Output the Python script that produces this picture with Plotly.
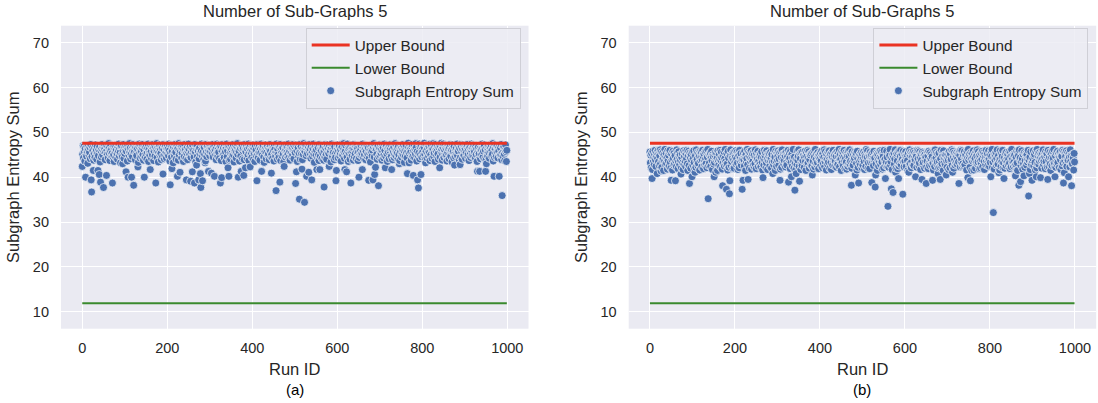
import plotly.graph_objects as go

# ---------------- data ----------------
run_ids = list(range(1000))
upper_bound = 47.6
lower_bound = 11.9
x_ticks = [0, 200, 400, 600, 800, 1000]
y_ticks = [10, 20, 30, 40, 50, 60, 70]
panel_title = "Number of Sub-Graphs 5"
captions = ["(a)", "(b)"]

# panel (a): main band of values, run 0..999
entropy_a = [
46.2,45.1,47.0,44.3,46.8,45.7,43.6,46.4,47.2,45.0,44.7,46.9,45.8,43.1,46.3,47.1,44.9,45.6,46.7,44.1,
47.3,45.4,46.0,44.6,46.5,45.9,47.0,43.8,45.2,46.6,44.4,47.2,45.7,46.1,44.0,46.9,45.3,47.4,44.8,46.2,
45.5,46.8,43.4,47.1,45.9,44.5,46.4,47.3,45.0,46.7,44.2,45.8,47.0,46.3,43.9,45.6,47.2,44.7,46.0,45.1,
46.9,44.3,47.5,45.4,46.6,43.7,45.9,47.1,44.9,46.2,45.3,47.3,44.6,46.8,45.0,43.5,46.5,47.0,45.7,44.4,
46.1,47.2,45.2,44.0,46.7,45.8,47.4,44.8,46.3,45.5,43.2,46.9,47.1,45.0,44.5,46.4,45.9,47.3,44.2,46.6,
45.3,46.0,47.0,44.7,45.8,46.8,43.6,47.2,45.4,46.2,44.9,47.5,45.6,46.5,44.1,45.1,47.1,46.3,44.6,45.9,
47.3,44.4,46.1,45.7,47.0,43.9,46.7,45.2,44.8,47.2,46.4,45.0,43.3,46.9,47.4,45.5,44.3,46.0,47.1,45.8,
44.6,46.6,47.3,45.1,43.8,46.2,45.9,47.0,44.5,46.8,45.3,47.2,44.0,45.6,46.5,47.4,43.5,46.1,45.4,44.9,
46.3,47.1,45.7,44.2,46.9,45.0,47.3,46.4,43.7,45.8,47.0,44.7,46.6,45.2,46.0,47.5,44.4,45.9,46.7,43.4,
45.5,46.8,47.2,44.9,46.1,45.3,43.9,47.0,46.5,44.6,45.7,47.3,46.2,44.1,45.0,46.9,47.1,45.6,44.3,46.4,
47.0,45.2,46.3,44.8,47.4,45.9,43.6,46.6,45.4,47.2,44.5,46.0,45.8,47.1,43.2,46.7,45.1,44.7,47.3,46.2,
45.6,44.0,46.9,47.0,45.3,46.4,43.8,47.5,45.0,46.1,44.9,45.7,47.2,46.8,44.3,45.5,46.5,47.1,43.5,46.0,
44.6,47.3,45.9,46.2,44.2,47.0,45.4,46.7,43.9,45.8,47.4,46.3,44.8,45.1,46.9,47.2,44.4,45.6,46.6,43.7,
47.1,45.3,46.0,44.5,46.8,47.3,45.7,43.4,46.4,45.0,47.0,44.7,46.1,45.9,47.2,44.1,46.5,45.2,43.8,46.9,
45.8,47.4,44.9,46.3,45.5,47.1,44.0,46.7,45.1,46.2,43.6,47.3,45.6,44.6,46.8,47.0,45.4,44.3,46.0,47.2,
44.8,46.5,45.7,47.1,43.3,46.4,45.2,47.3,44.5,46.9,45.9,44.1,47.0,46.1,45.0,43.9,46.6,47.4,45.3,44.7,
46.3,45.6,47.2,44.2,46.8,45.4,47.0,43.7,46.0,45.8,47.3,44.9,46.5,45.1,44.4,47.1,46.2,45.7,43.5,46.7,
47.4,44.6,45.9,46.4,47.0,45.2,43.8,46.9,45.5,44.0,47.2,46.1,45.3,44.8,46.6,47.3,45.0,43.4,46.3,45.7,
46.0,47.1,44.3,45.6,46.8,47.5,45.1,44.5,46.2,45.8,43.6,47.0,46.5,44.7,45.4,46.9,47.2,44.1,45.9,46.4,
45.3,43.9,47.3,46.1,44.9,45.7,46.7,47.0,44.2,46.3,45.0,47.4,43.7,46.6,45.5,44.6,47.1,46.0,45.2,44.4,
46.8,45.9,47.2,44.0,46.4,45.3,43.5,47.0,45.8,46.1,44.7,46.9,47.3,45.1,44.3,46.5,45.6,47.1,43.8,46.2,
45.4,47.4,44.8,46.7,45.0,46.3,47.1,44.5,43.3,46.0,45.7,47.2,46.6,44.1,45.5,46.9,47.0,44.9,45.2,46.4,
43.9,46.1,47.3,45.8,44.6,46.8,45.1,47.0,44.2,46.5,45.9,43.6,47.2,46.2,45.3,44.7,46.7,47.4,45.6,44.0,
46.3,45.0,47.1,44.4,46.9,45.7,47.3,43.7,46.0,45.4,44.8,47.0,46.6,45.2,43.4,46.4,47.2,45.9,44.5,46.1,
47.0,44.9,45.6,46.8,45.1,47.4,44.3,46.2,45.8,43.8,46.7,47.1,45.3,44.6,46.5,45.0,47.3,46.0,44.1,45.7,
46.9,45.5,44.2,47.2,46.3,45.9,43.5,47.0,46.6,44.7,45.4,46.1,47.3,44.0,45.8,46.8,45.2,47.1,43.9,46.4,
45.1,47.5,46.0,44.5,45.7,46.7,47.2,44.8,43.6,46.2,45.3,47.0,46.5,44.4,45.9,47.3,46.3,45.0,44.2,46.9,
47.1,45.6,44.6,46.4,47.4,45.2,43.3,46.8,45.8,47.0,44.9,46.1,45.5,47.2,44.3,46.6,45.0,43.7,47.3,46.0,
44.7,46.3,45.9,47.1,44.1,46.7,45.4,47.0,43.8,46.2,45.7,44.5,47.3,46.5,45.1,44.0,46.9,47.2,45.6,46.4,
45.3,44.8,47.0,46.1,45.8,43.4,46.6,47.4,45.0,44.6,46.3,45.5,47.1,43.9,46.8,45.2,44.4,47.3,46.0,45.7,
46.5,47.2,44.3,45.9,46.9,47.0,44.7,45.4,46.2,43.6,47.3,46.7,45.1,44.9,46.0,47.5,45.6,44.2,46.4,45.8,
47.1,45.0,46.6,44.5,47.4,45.7,43.5,46.3,46.8,45.2,44.0,47.0,46.1,45.5,47.2,44.8,45.9,46.5,43.8,47.3,
44.6,46.2,45.3,47.1,46.9,44.1,45.8,47.0,46.4,43.7,45.6,47.3,44.4,46.7,45.1,46.0,47.2,44.9,45.4,46.3,
47.4,45.9,44.3,46.6,45.0,47.1,46.2,43.9,45.7,47.0,44.7,46.8,45.2,46.5,47.3,44.2,45.5,46.1,43.4,46.9,
45.6,47.2,44.8,46.0,45.3,46.7,47.5,44.5,45.9,46.4,43.6,47.1,46.3,45.1,44.0,46.8,47.0,45.7,44.6,46.2,
46.5,44.9,47.3,45.4,46.1,43.8,47.2,45.8,46.6,44.3,45.0,47.4,46.0,45.5,44.7,46.9,47.1,45.2,43.5,46.3,
45.7,46.8,44.1,47.0,45.9,46.4,47.3,44.6,45.3,46.2,43.9,47.2,45.6,46.7,44.4,45.1,47.5,46.0,44.8,45.8,
47.1,45.4,46.5,44.2,46.9,45.0,47.4,43.7,46.3,45.7,47.0,44.5,46.6,45.2,46.1,47.3,44.9,45.9,43.3,46.8,
44.7,46.0,47.2,45.5,44.3,46.4,45.8,47.6,46.7,44.0,45.3,47.1,46.2,45.6,43.8,46.9,47.3,45.1,44.6,46.5,
45.9,47.0,44.4,46.3,45.2,47.5,46.6,43.6,45.7,47.2,44.8,46.1,45.4,47.4,44.1,46.8,45.0,46.4,47.1,44.5,
46.2,45.6,47.3,44.9,46.7,47.6,45.1,43.9,46.0,45.8,47.2,44.3,46.5,45.3,47.0,44.7,46.9,45.5,43.7,47.4,
45.0,46.6,47.1,44.2,45.9,46.3,47.5,44.6,45.4,46.8,43.5,47.3,46.1,45.7,44.8,46.4,47.0,45.2,44.0,46.7,
47.2,45.3,44.5,46.9,45.8,47.6,46.2,43.8,45.1,46.6,47.4,44.4,45.6,46.0,47.1,44.9,46.5,45.0,43.6,46.8,
45.5,47.0,46.3,44.1,46.7,45.2,47.3,44.7,45.9,46.1,43.4,47.2,46.4,45.7,44.3,46.9,47.1,45.4,44.6,46.2,
46.6,45.1,47.4,44.8,46.0,45.8,47.0,43.9,46.5,45.3,44.5,47.3,46.8,45.6,44.0,46.3,47.2,45.0,44.9,46.7,
45.9,46.4,44.2,47.1,45.5,46.9,47.3,44.6,45.2,46.2,43.7,47.0,46.6,45.4,44.4,46.1,47.4,45.8,44.8,46.5,
47.2,44.7,46.0,45.7,47.1,44.3,46.8,45.1,46.3,43.5,47.0,45.6,46.7,44.9,45.3,47.3,46.4,44.1,45.9,46.2,
45.0,47.4,46.5,44.5,45.8,46.9,47.2,44.0,46.1,45.4,43.8,47.1,46.6,45.2,44.7,46.3,47.0,45.5,44.2,46.8,
46.4,45.7,47.3,44.8,46.0,45.1,47.5,43.6,46.7,45.9,44.4,47.2,46.2,45.3,44.6,46.9,47.0,45.6,44.3,46.5,
45.8,46.1,47.1,44.9,46.6,45.0,47.3,43.9,46.3,45.4,44.7,47.0,46.8,45.2,44.1,46.0,47.2,45.7,45.1,46.4,
]
# panel (a): the runs that fall below the main band
low_runs_a = [0, 8, 21, 22, 26, 37, 40, 43, 50, 57, 71, 95, 103, 108, 116, 121, 131, 146, 160, 173,
              190, 207, 211, 224, 230, 245, 255, 259, 264, 269, 274, 278, 279, 283, 289, 297, 304, 311, 325, 328,
              343, 345, 367, 374, 380, 384, 395, 411, 422, 445, 456, 465, 475, 502, 504, 511, 517, 523, 528, 533,
              540, 552, 559, 569, 581, 597, 598, 618, 622, 632, 651, 659, 674, 684, 688, 690, 697, 713, 728, 746,
              765, 769, 779, 789, 791, 797, 808, 841, 876, 889, 930, 935, 949, 951, 969, 981, 988, 994, 998, 999]
low_vals_a = [42.4, 40.0, 39.4, 36.7, 41.5, 41.5, 40.6, 38.9, 37.7, 40.4, 38.7, 43.0, 41.2, 40.0, 40.0, 38.2, 42.3, 40.0, 41.7, 38.7,
              40.7, 38.3, 41.9, 40.2, 41.1, 39.4, 39.1, 41.2, 38.7, 42.7, 39.4, 40.8, 37.7, 39.2, 43.2, 41.3, 40.9, 40.2, 38.7, 39.9,
              42.1, 40.2, 40.0, 41.3, 40.4, 42.1, 42.3, 39.2, 41.3, 40.9, 37.0, 38.9, 42.4, 38.6, 41.2, 35.1, 41.8, 34.4, 40.2, 41.1,
              39.4, 41.7, 41.7, 37.8, 42.4, 39.2, 41.5, 41.7, 41.2, 38.7, 40.0, 41.7, 39.3, 39.4, 40.6, 42.2, 38.1, 42.1, 41.7, 43.0,
              40.8, 43.2, 40.4, 39.4, 37.6, 40.6, 43.2, 42.1, 42.7, 42.8, 41.3, 41.3, 41.3, 43.0, 40.2, 40.2, 35.9, 43.7, 43.5, 46.0]

# panel (b): main band of values, run 0..999
entropy_b = [
45.6,43.2,44.9,42.1,45.3,44.0,41.7,45.8,43.6,44.5,42.8,45.1,46.0,43.9,42.4,44.7,45.5,41.9,44.2,45.9,
43.4,45.2,42.6,44.8,46.1,43.0,44.4,45.7,42.2,43.8,45.4,44.1,41.5,45.0,43.5,46.2,42.9,44.6,45.3,43.1,
44.3,41.8,45.9,43.7,44.9,42.5,45.6,46.0,43.3,42.0,44.5,45.2,43.9,41.6,45.8,44.2,42.7,45.4,43.0,44.8,
45.1,43.6,42.3,46.1,44.0,45.5,41.9,43.4,45.7,44.6,42.8,45.0,43.8,46.2,42.1,44.4,45.3,43.2,41.7,45.9,
42.9,44.7,45.6,43.5,42.4,45.2,44.1,46.0,43.0,41.5,44.9,45.8,42.6,43.9,45.4,44.3,42.0,45.1,43.7,44.5,
45.7,42.7,44.2,45.9,43.3,41.8,45.0,44.8,42.2,46.1,43.6,44.0,45.5,42.5,43.1,45.3,44.6,41.6,45.8,43.8,
44.4,45.6,42.3,43.9,46.0,44.7,41.9,45.2,43.4,42.8,45.7,44.1,43.0,45.9,42.1,44.5,46.2,43.5,42.6,45.1,
43.2,44.9,45.4,42.4,44.3,45.8,43.7,41.7,45.0,44.6,42.9,46.1,43.3,44.8,45.5,42.0,43.9,45.3,44.2,41.5,
45.9,43.6,42.7,45.1,44.0,46.0,42.3,43.8,45.6,44.4,41.8,45.2,43.1,44.7,45.7,42.5,44.1,46.2,43.4,42.8,
44.6,45.3,43.0,41.6,45.8,44.3,42.2,45.4,43.7,44.9,46.1,42.6,43.5,45.0,44.2,41.9,45.5,43.9,42.4,45.7,
43.3,44.5,45.9,42.9,44.1,45.6,43.2,41.7,45.2,44.8,42.1,46.0,43.6,44.4,45.3,42.7,43.8,45.1,44.0,42.3,
45.4,43.9,42.5,45.8,44.6,41.5,45.0,43.4,44.2,46.2,42.8,43.1,45.7,44.7,42.0,45.5,43.7,44.3,45.9,41.8,
44.0,45.2,43.5,42.6,45.6,44.9,42.2,43.0,46.1,44.5,41.9,45.3,43.8,44.1,45.8,42.4,43.6,45.0,44.7,42.9,
45.1,42.3,44.4,45.7,43.3,41.6,45.4,44.2,42.7,46.0,43.9,44.8,45.5,42.1,43.2,45.9,44.0,41.7,45.2,43.7,
44.6,45.3,42.5,43.8,45.6,44.3,42.0,45.1,43.4,44.9,46.2,42.8,43.6,45.0,44.5,41.5,45.8,43.1,42.4,45.4,
43.9,44.7,45.9,42.6,44.1,45.5,43.0,41.8,45.7,44.4,42.2,46.1,43.5,44.0,45.2,42.9,43.7,45.3,44.8,42.3,
45.6,43.2,42.7,45.0,44.6,46.0,42.1,43.9,45.4,44.2,41.9,45.8,43.3,44.9,45.1,42.5,44.3,46.2,43.6,42.0,
44.5,45.7,43.1,41.6,45.3,44.0,42.8,45.9,43.8,44.7,46.1,42.4,43.4,45.2,44.1,41.7,45.5,43.0,42.6,45.6,
43.7,44.8,45.0,42.2,44.4,45.8,43.5,41.5,45.4,44.6,42.9,46.0,43.2,44.3,45.7,42.0,43.9,45.1,44.9,42.7,
45.3,42.5,44.2,45.6,43.6,41.8,45.9,44.5,42.3,46.2,43.1,44.0,45.2,42.8,43.3,45.5,44.7,41.9,45.0,43.8,
44.1,45.4,42.6,43.7,45.8,44.9,42.1,45.3,43.0,44.4,46.1,42.4,43.5,45.7,44.2,41.6,45.1,43.9,42.9,45.6,
43.4,44.6,45.9,42.0,44.8,45.2,43.3,41.7,45.5,44.3,42.7,46.0,43.8,44.1,45.0,42.5,43.6,45.4,44.7,42.2,
45.7,43.1,42.8,45.3,44.5,46.2,42.3,43.9,45.1,44.0,41.5,45.8,43.2,44.9,45.6,42.6,44.4,46.0,43.7,41.9,
44.2,45.5,43.4,41.8,45.2,44.7,42.4,45.9,43.0,44.6,46.1,42.9,43.6,45.3,44.1,42.0,45.7,43.5,42.7,45.0,
43.8,44.3,45.6,42.5,44.9,45.4,43.1,41.6,45.8,44.2,42.2,46.0,43.3,44.8,45.1,42.8,43.9,45.5,44.4,42.1,
45.2,42.7,44.0,45.7,43.5,41.7,45.3,44.6,42.4,46.2,43.7,44.5,45.9,42.0,43.2,45.0,44.8,41.9,45.6,43.4,
44.7,45.1,42.9,43.6,45.5,44.1,42.6,45.8,43.9,44.3,46.1,42.3,43.0,45.4,44.9,41.5,45.2,43.8,42.5,45.7,
43.5,44.4,45.9,42.8,44.2,45.6,43.4,41.8,45.1,44.7,42.1,46.0,43.7,44.0,45.3,42.6,43.3,45.8,44.5,42.4,
45.5,43.0,42.2,45.2,44.8,46.2,42.7,43.5,45.7,44.4,41.7,45.0,43.9,44.6,45.4,42.9,44.1,46.1,43.2,42.0,
44.9,45.3,43.6,41.9,45.6,44.3,42.5,45.9,43.1,44.7,46.0,42.8,43.8,45.1,44.0,41.6,45.8,43.4,42.3,45.2,
43.6,44.8,45.7,42.4,44.5,45.0,43.7,41.5,45.4,44.2,42.9,46.1,43.0,44.9,45.6,42.1,43.5,45.3,44.6,42.7,
45.8,42.6,44.3,45.5,43.9,41.8,45.1,44.7,42.2,46.0,43.4,44.1,45.9,42.5,43.2,45.7,44.4,41.7,45.2,43.8,
44.0,45.6,42.8,43.3,45.3,44.9,42.0,45.0,43.7,44.5,46.2,42.3,43.6,45.4,44.8,41.9,45.8,43.1,42.6,45.5,
43.9,44.2,45.1,42.7,44.6,45.7,43.2,41.6,45.9,44.0,42.4,46.1,43.8,44.3,45.5,42.9,43.4,45.2,44.7,42.1,
45.4,43.5,42.3,45.6,44.1,46.0,42.5,43.0,45.3,44.8,41.5,45.9,43.3,44.4,45.0,42.8,44.9,46.2,43.7,42.2,
44.3,45.1,43.8,41.7,45.7,44.6,42.1,45.2,43.6,44.0,46.1,42.6,43.1,45.8,44.5,42.0,45.4,43.9,42.7,45.0,
43.2,44.7,45.5,42.9,44.2,45.3,43.4,41.8,45.6,44.9,42.3,46.0,43.5,44.1,45.9,42.4,43.0,45.1,44.8,42.5,
45.7,42.8,44.5,45.0,43.7,41.6,45.8,44.3,42.6,46.2,43.9,44.6,45.2,42.2,43.3,45.5,44.0,41.5,45.3,43.6,
44.4,45.9,42.7,43.8,45.1,44.2,42.0,45.6,43.2,44.8,46.1,42.9,43.4,45.7,44.7,41.9,45.0,43.5,42.1,45.4,
43.1,44.0,45.8,42.3,44.9,45.5,43.6,41.7,45.2,44.4,42.8,46.0,43.7,44.5,45.3,42.6,43.9,45.9,44.1,42.4,
45.0,43.3,42.5,45.7,44.6,46.2,42.2,43.4,45.5,44.3,41.8,45.1,43.8,44.9,45.6,42.7,44.2,46.1,43.0,42.9,
44.8,45.2,43.9,41.6,45.9,44.1,42.4,45.3,43.5,44.7,46.0,42.1,43.2,45.8,44.4,42.0,45.4,43.7,42.6,45.6,
43.4,44.5,45.1,42.8,44.0,45.7,43.1,41.9,45.5,44.6,42.3,46.2,43.6,44.2,45.0,42.5,43.3,45.2,44.9,42.7,
45.3,42.9,44.4,45.8,43.2,41.5,45.6,44.8,42.0,46.1,43.9,44.3,45.4,42.6,43.5,45.9,44.1,41.8,45.1,43.0,
44.6,45.5,42.2,43.7,45.2,44.9,42.7,45.0,43.4,44.0,46.0,42.4,43.8,45.6,44.5,41.7,45.7,43.1,42.8,45.3,
43.6,44.2,45.9,42.5,44.7,45.1,43.3,41.6,45.8,44.4,42.1,46.2,43.0,44.8,45.4,42.9,43.7,45.5,44.3,42.6,
45.2,43.8,42.0,45.4,44.1,46.1,42.8,43.6,45.0,44.6,41.9,45.7,43.5,44.9,45.3,42.3,44.0,46.0,43.9,42.4,
44.5,45.6,43.0,41.5,45.1,44.3,42.6,45.9,43.7,44.2,46.2,42.7,43.1,45.2,44.8,42.2,45.5,43.4,42.9,45.8,
43.3,44.9,45.3,42.1,44.4,45.6,43.9,41.7,45.0,44.7,42.5,46.0,43.2,44.1,45.7,42.0,43.6,45.4,44.6,42.8,
45.9,42.4,44.0,45.5,43.8,41.8,45.2,44.5,42.3,46.1,43.5,44.8,45.6,42.9,43.0,45.1,44.3,41.6,45.3,43.2,
]
# panel (b): the runs that fall below the main band
low_runs_b = [5, 17, 26, 50, 60, 73, 93, 99, 106, 137, 151, 155, 171, 180, 187, 188, 198, 217, 219, 231,
              266, 289, 306, 326, 333, 341, 344, 352, 382, 474, 483, 491, 522, 530, 531, 554, 560, 568, 572, 578,
              585, 595, 609, 625, 640, 650, 665, 678, 683, 697, 712, 727, 748, 754, 762, 802, 808, 821, 833, 860,
              868, 872, 880, 891, 893, 899, 909, 919, 936, 953, 973, 975, 985, 992, 999]
low_vals_b = [39.7, 40.8, 41.4, 39.3, 39.2, 40.7, 38.6, 40.1, 41.1, 35.2, 40.1, 41.1, 38.1, 37.3, 36.3, 39.2, 42.0, 37.3, 39.3, 39.5,
              39.9, 40.8, 39.3, 38.9, 40.1, 37.1, 40.8, 39.1, 40.5, 38.2, 40.5, 38.7, 38.8, 37.8, 40.5, 39.7, 33.5, 37.4, 36.6, 41.1,
              39.7, 36.2, 41.1, 40.1, 39.5, 38.6, 39.3, 40.8, 39.5, 40.5, 41.1, 38.6, 39.9, 39.2, 41.6, 40.1, 32.1, 41.0, 39.7, 40.3,
              38.2, 39.0, 40.3, 35.8, 40.8, 39.3, 40.1, 39.9, 39.5, 40.1, 38.7, 41.0, 40.1, 38.1, 43.4]

for r, v in zip(low_runs_a, low_vals_a):
    entropy_a[r] = v
for r, v in zip(low_runs_b, low_vals_b):
    entropy_b[r] = v

# ---------------- style ----------------
W, H = 1098, 403
FONT = "Liberation Sans, Arial, sans-serif"
TXT = "#262626"
BG = "#EAEAF2"
BLUE = "#4C72B0"
RED = "#EA3323"
GREEN = "#3A8A2E"

def px_x(p):
    return p / W

def px_y(p):
    return 1 - p / H

domains_x = [(px_x(61), px_x(528.5)), (px_x(628.7), px_x(1096.2))]
domain_y = (px_y(328.7), px_y(25.7))

fig = go.Figure()
series = [entropy_a, entropy_b]
for i, vals in enumerate(series):
    xa = "x" if i == 0 else "x2"
    ya = "y" if i == 0 else "y2"
    lg = "legend" if i == 0 else "legend2"
    fig.add_trace(go.Scatter(
        x=run_ids, y=vals, mode="markers", name="Subgraph Entropy Sum",
        marker=dict(color=BLUE, size=8, line=dict(color="white", width=0.7)),
        xaxis=xa, yaxis=ya, legend=lg, legendrank=3))
    fig.add_trace(go.Scatter(
        x=[run_ids[0], run_ids[-1]], y=[upper_bound, upper_bound], mode="lines",
        name="Upper Bound", line=dict(color=RED, width=3),
        xaxis=xa, yaxis=ya, legend=lg, legendrank=1))
    fig.add_trace(go.Scatter(
        x=[run_ids[0], run_ids[-1]], y=[lower_bound, lower_bound], mode="lines",
        name="Lower Bound", line=dict(color=GREEN, width=2),
        xaxis=xa, yaxis=ya, legend=lg, legendrank=2))

axis_common = dict(showgrid=True, gridcolor="white", gridwidth=1.3, zeroline=False,
                   showline=False, ticks="", tickfont=dict(family=FONT, size=14.5, color=TXT))
layout = dict(
    width=W, height=H, margin=dict(l=0, r=0, t=0, b=0),
    paper_bgcolor="white", plot_bgcolor=BG, showlegend=True,
    font=dict(family=FONT, color=TXT),
)
for i in range(2):
    sx = "" if i == 0 else "2"
    layout["xaxis" + sx] = dict(axis_common, domain=list(domains_x[i]), range=[-50, 1050],
                                tickvals=x_ticks, ticklabelstandoff=9,
                                anchor="y" + sx)
    layout["yaxis" + sx] = dict(axis_common, domain=list(domain_y), range=[6.2, 73.8],
                                tickvals=y_ticks, ticklabelstandoff=11,
                                anchor="x" + sx)
fig.update_layout(**layout)

leg_common = dict(bgcolor="rgba(236,236,243,0.85)", bordercolor="#CFCFD6", borderwidth=1,
                  font=dict(family=FONT, size=15.3, color=TXT), xanchor="right", yanchor="top",
                  y=px_y(27.5), tracegroupgap=0, itemwidth=38)
fig.update_layout(legend=dict(leg_common, x=px_x(520.7)),
                  legend2=dict(leg_common, x=px_x(1088.4)))

annotations = []
for i in range(2):
    cx = (domains_x[i][0] + domains_x[i][1]) / 2
    annotations.append(dict(text=panel_title, x=cx, y=px_y(11), xref="paper", yref="paper",
                            showarrow=False, xanchor="center", yanchor="middle",
                            font=dict(family=FONT, size=16.5, color=TXT)))
    annotations.append(dict(text="Run ID", x=cx, y=px_y(369), xref="paper", yref="paper",
                            showarrow=False, xanchor="center", yanchor="middle",
                            font=dict(family=FONT, size=16.5, color=TXT)))
    annotations.append(dict(text=captions[i], x=cx, y=px_y(389), xref="paper", yref="paper",
                            showarrow=False, xanchor="center", yanchor="middle",
                            font=dict(family=FONT, size=15, color="black")))
    ylab_x = [13, 581][i]
    annotations.append(dict(text="Subgraph Entropy Sum", x=px_x(ylab_x), y=px_y(177), xref="paper",
                            yref="paper", showarrow=False, xanchor="center", yanchor="middle",
                            textangle=-90, font=dict(family=FONT, size=16.5, color=TXT)))
fig.update_layout(annotations=annotations)

fig.write_html("out.html", config={"displayModeBar": False},
               post_script="document.body.style.margin='0px';document.body.style.overflow='hidden';")
